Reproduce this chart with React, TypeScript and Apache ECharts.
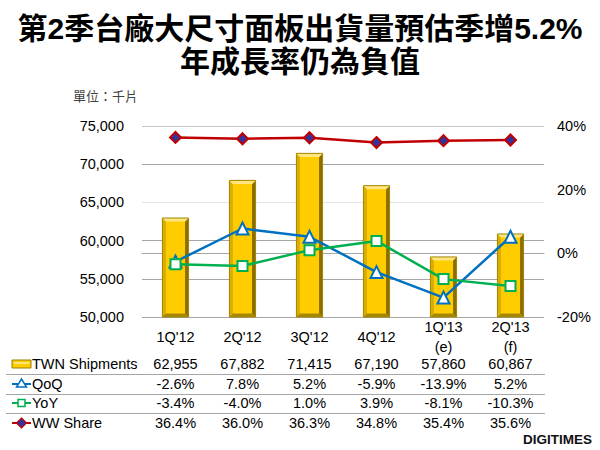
import React, { useEffect, useRef } from "react";
import * as echarts from "echarts";

const categories = ["1Q'12", "2Q'12", "3Q'12", "4Q'12", "1Q'13\n(e)", "2Q'13\n(f)"];
const shipments = [62955, 67882, 71415, 67190, 57860, 60867];
const qoq = [-2.6, 7.8, 5.2, -5.9, -13.9, 5.2];
const yoy = [-3.4, -4.0, 1.0, 3.9, -8.1, -10.3];
const wwShare = [36.4, 36.0, 36.3, 34.8, 35.4, 35.6];
const rowNames = ["TWN Shipments", "QoQ", "YoY", "WW Share"];

const FONT = "'Liberation Sans', Arial, 'Noto Sans CJK TC', sans-serif";
const FS = 14.5;
const GOLD = "#FFCC00";
const BLUE = "#0070C0";
const GREEN = "#00B050";
const RED = "#C00000";
const GRID = "#A6A6A6";

const fmtInt = (v: number) => v.toLocaleString("en-US");
const fmtPct = (v: number) => v.toFixed(1) + "%";

// one extra bottom axis per table row, so each value sits under its category
const tableRows = [
  shipments.map(fmtInt),
  qoq.map(fmtPct),
  yoy.map(fmtPct),
  wwShare.map(fmtPct),
];
const rowOffsets = [27, 47, 66, 86];
const rowCenters = [364, 384, 403, 423];

export default function App() {
  const ref = useRef<HTMLDivElement>(null);

  useEffect(() => {
    document.body.style.margin = "0";
    if (!ref.current) return;
    const chart = echarts.init(ref.current, undefined, { renderer: "svg" });

    const tableAxes = tableRows.map((row, i) => ({
      type: "category" as const,
      gridIndex: 0,
      position: "bottom" as const,
      offset: rowOffsets[i],
      data: row,
      axisLine: { show: false },
      axisTick: { show: false },
      axisLabel: {
        interval: 0,
        margin: 20,
        verticalAlign: "middle",
        fontSize: FS,
        color: "#000",
        fontFamily: FONT,
      },
    }));

    const legendIcons: any[] = [];
    const ix = 12;
    const iw = 19;
    // shipments icon
    legendIcons.push({
      type: "rect",
      shape: { x: ix, y: rowCenters[0] - 4, width: iw, height: 8 },
      style: { fill: GOLD, stroke: "#9C7E00", lineWidth: 1 },
    });
    legendIcons.push({
      type: "rect",
      shape: { x: ix + 2, y: rowCenters[0] - 2, width: iw - 4, height: 2 },
      style: { fill: "#FFE680" },
    });
    const lineIcon = (y: number, color: string) => ({
      type: "line",
      shape: { x1: ix, y1: y, x2: ix + iw, y2: y },
      style: { stroke: color, lineWidth: 2 },
    });
    legendIcons.push(lineIcon(rowCenters[1], BLUE));
    legendIcons.push({
      type: "polygon",
      shape: {
        points: [
          [ix + iw / 2, rowCenters[1] - 5],
          [ix + iw / 2 - 5, rowCenters[1] + 3],
          [ix + iw / 2 + 5, rowCenters[1] + 3],
        ],
      },
      style: { fill: "#fff", stroke: BLUE, lineWidth: 1.5 },
    });
    legendIcons.push(lineIcon(rowCenters[2], GREEN));
    legendIcons.push({
      type: "rect",
      shape: { x: ix + iw / 2 - 3.5, y: rowCenters[2] - 3.5, width: 7, height: 7 },
      style: { fill: "#fff", stroke: GREEN, lineWidth: 1.5 },
    });
    legendIcons.push(lineIcon(rowCenters[3], RED));
    legendIcons.push({
      type: "polygon",
      shape: {
        points: [
          [ix + iw / 2, rowCenters[3] - 5],
          [ix + iw / 2 + 5, rowCenters[3]],
          [ix + iw / 2, rowCenters[3] + 5],
          [ix + iw / 2 - 5, rowCenters[3]],
        ],
      },
      style: { fill: "#3333A0", stroke: RED, lineWidth: 1.2 },
    });

    const rowTexts = rowNames.map((name, i) => ({
      type: "text",
      x: 32,
      y: rowCenters[i],
      style: {
        text: name,
        fontSize: FS,
        fontFamily: FONT,
        fill: "#000",
        verticalAlign: "middle",
        align: "left",
      },
    }));

    const rules = [374.5, 394.5, 413.5].map((y) => ({
      type: "line",
      shape: { x1: 6, y1: y, x2: 545, y2: y },
      style: { stroke: GRID, lineWidth: 1 },
    }));

    chart.setOption({
      animation: false,
      backgroundColor: "#fff",
      title: [
        {
          text: "第2季台廠大尺寸面板出貨量預估季增5.2%",
          left: "center",
          top: 8,
          textStyle: { fontSize: 30, fontWeight: "bold", color: "#000", fontFamily: FONT },
        },
        {
          text: "年成長率仍為負值",
          left: "center",
          top: 41,
          textStyle: { fontSize: 30, fontWeight: "bold", color: "#000", fontFamily: FONT },
        },
      ],
      grid: { left: 142, right: 56, top: 126, bottom: 133 },
      xAxis: [
        {
          type: "category",
          data: categories,
          axisLine: { show: true, lineStyle: { color: GRID, width: 1 } },
          axisTick: { show: false },
          axisLabel: {
            interval: 0,
            margin: 20,
            verticalAlign: "middle",
            fontSize: FS,
            lineHeight: 20,
            color: "#000",
            fontFamily: FONT,
          },
        },
        ...tableAxes,
      ],
      yAxis: [
        {
          type: "value",
          min: 50000,
          max: 75000,
          interval: 5000,
          axisLine: { show: false },
          axisTick: { show: false },
          splitLine: {
            show: true,
            lineStyle: { color: [GRID, GRID, GRID, "#E3E3E3", GRID, "#C8C8C8"], width: 1 },
          },
          axisLabel: {
            margin: 18,
            fontSize: FS,
            color: "#000",
            fontFamily: FONT,
            formatter: (v: number) => fmtInt(v),
          },
        },
        {
          type: "value",
          min: -20,
          max: 40,
          interval: 20,
          position: "right",
          axisLine: { show: false },
          axisTick: { show: false },
          splitLine: { show: false },
          axisLabel: {
            margin: 13,
            fontSize: FS,
            color: "#000",
            fontFamily: FONT,
            formatter: (v: number) => v + "%",
          },
        },
      ],
      series: [
        {
          name: "TWN Shipments",
          type: "custom",
          xAxisIndex: 0,
          yAxisIndex: 0,
          z: 1,
          data: shipments.map((v, i) => [i, v]),
          encode: { x: 0, y: 1 },
          renderItem: (_params: any, api: any) => {
            const top = api.coord([api.value(0), api.value(1)]);
            const base = api.coord([api.value(0), 50000]);
            const bw = api.size([1, 0])[0] * 0.39;
            const l = top[0] - bw / 2;
            const r = top[0] + bw / 2;
            const t = top[1];
            const b = base[1];
            const e = 3.5;
            return {
              type: "group",
              children: [
                { type: "rect", shape: { x: l, y: t, width: bw, height: b - t }, style: { fill: GOLD } },
                {
                  type: "polygon",
                  shape: { points: [[l, t], [l + e, t + e], [l + e, b - e], [l, b]] },
                  style: { fill: "#D9AE00" },
                },
                {
                  type: "polygon",
                  shape: { points: [[r, t], [r - e, t + e], [r - e, b - e], [r, b]] },
                  style: { fill: "#8C6D00" },
                },
                {
                  type: "polygon",
                  shape: { points: [[l, t], [r, t], [r - e, t + e], [l + e, t + e]] },
                  style: { fill: "#FFE680" },
                },
                {
                  type: "polygon",
                  shape: { points: [[l, b], [r, b], [r - e, b - e], [l + e, b - e]] },
                  style: { fill: "#A88700" },
                },
                {
                  type: "rect",
                  shape: { x: l, y: t, width: bw, height: b - t },
                  style: { fill: "none", stroke: "#A38500", lineWidth: 1 },
                },
              ],
            };
          },
        },
        {
          name: "QoQ",
          type: "line",
          yAxisIndex: 1,
          z: 3,
          data: qoq,
          symbol: "triangle",
          symbolSize: 12,
          lineStyle: { color: BLUE, width: 2.5 },
          itemStyle: { color: "#fff", borderColor: BLUE, borderWidth: 2 },
        },
        {
          name: "YoY",
          type: "line",
          yAxisIndex: 1,
          z: 3,
          data: yoy,
          symbol: "rect",
          symbolSize: 10,
          lineStyle: { color: GREEN, width: 2.5 },
          itemStyle: { color: "#fff", borderColor: GREEN, borderWidth: 2 },
        },
        {
          name: "WW Share",
          type: "line",
          yAxisIndex: 1,
          z: 3,
          data: wwShare,
          symbol: "diamond",
          symbolSize: 11,
          lineStyle: { color: RED, width: 2.5 },
          itemStyle: { color: "#3333A0", borderColor: RED, borderWidth: 2 },
        },
      ],
      graphic: [
        {
          type: "text",
          x: 73,
          y: 95,
          style: {
            text: "單位：千片",
            fontSize: 13,
            fontFamily: "'Noto Sans CJK TC', sans-serif",
            fill: "#404040",
            verticalAlign: "middle",
          },
        },
        ...rules,
        ...legendIcons,
        ...rowTexts,
        {
          type: "text",
          x: 592,
          y: 439,
          style: {
            text: "DIGITIMES",
            fontSize: 13.5,
            fontWeight: "bold",
            fontFamily: FONT,
            fill: "#111",
            align: "right",
            verticalAlign: "middle",
          },
        },
      ],
    });

    return () => chart.dispose();
  }, []);

  return <div ref={ref} style={{ width: 600, height: 450 }} />;
}
